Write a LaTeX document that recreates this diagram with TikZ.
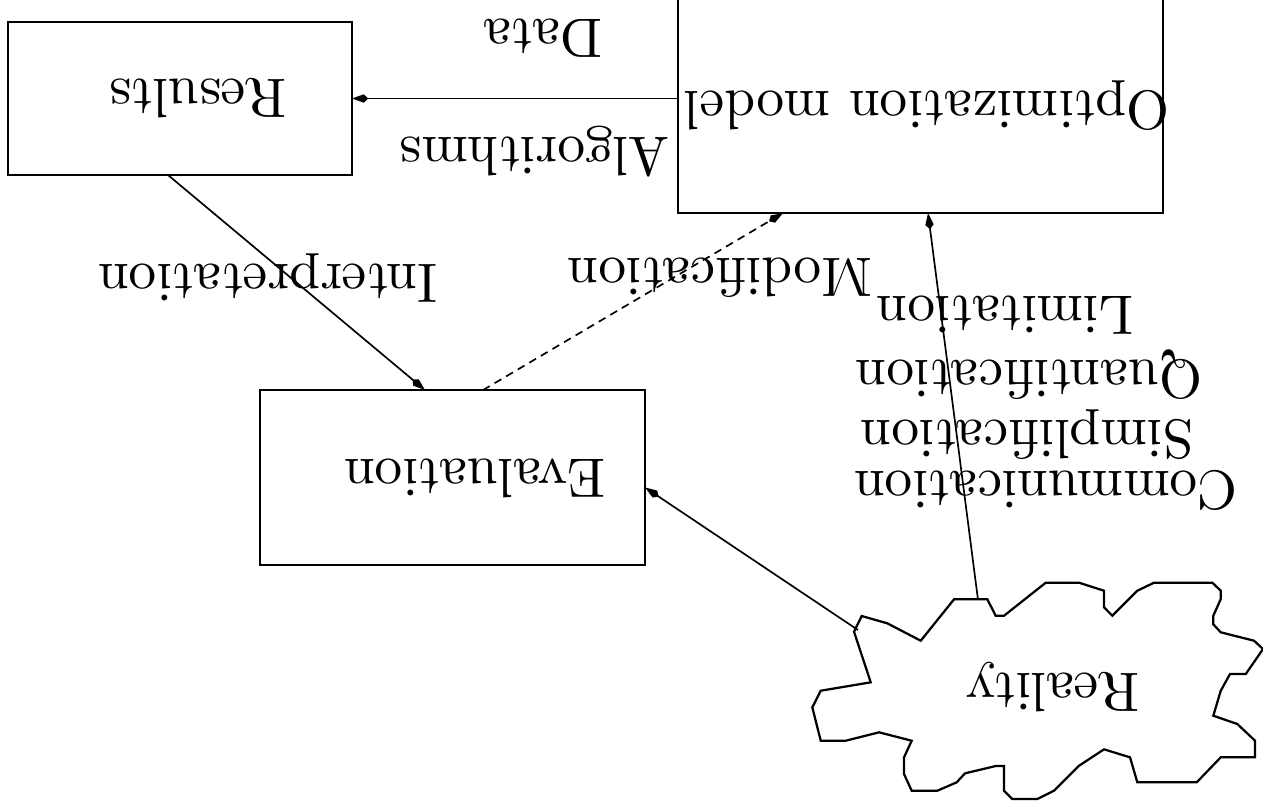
\documentclass[tikz,border=0pt]{standalone}
\usetikzlibrary{arrows.meta,calc}
\begin{document}
\begin{tikzpicture}[x=0.1786pt,y=-0.1786pt,
  box/.style={draw, inner sep=0pt, outer sep=0pt},
  lbl/.style={rotate=180, inner sep=0pt, font=\fontsize{9.9}{12}\selectfont},
  arr/.style={-{Kite[length=2.9pt,width=1.5pt,inset=0.8pt]}},
  dsh/.style={dash pattern=on 1.4pt off 1pt},
  thinline/.style={line width=0.3pt}
]
\useasboundingbox (0,0) rectangle (1263,810);
% boxes
\node[box, minimum width=61.44pt, minimum height=27.33pt] (res) at (180,98.5) {};
\node[box, minimum width=86.6pt, minimum height=38.6pt] (opt) at (920.5,105) {};
\node[box, minimum width=68.8pt, minimum height=31.25pt] (eval) at (452.5,477.5) {};
% box texts
\node[lbl] (restxt) at (198,98) {Results};
\node[lbl] (opttxt) at (927,106) {Optimization model};
\node[lbl] (evaltxt) at (475,478) {Evaluation};
% cloud
\draw (861.7,616) -- (887.3,623.3) -- (920.7,640.7) -- (954,599.3) -- (987.3,599.3)
 -- (995.7,615.7) -- (1004,615.7) -- (1045.7,582.7) -- (1079,582.7) -- (1104,590.7)
 -- (1104,607.3) -- (1112.3,615.7) -- (1137.3,590.7) -- (1154,582.7) -- (1212.3,582.7)
 -- (1220.7,590.7) -- (1220.7,599) -- (1213.3,615.7) -- (1213.3,624.3) -- (1220.7,632.3)
 -- (1254,640.7) -- (1263,649) -- (1245.7,674) -- (1230,674) -- (1220.7,690.7)
 -- (1213.3,715.7) -- (1237.3,724) -- (1255,740.7) -- (1255,757.3) -- (1220.7,757.3)
 -- (1196.7,782.3) -- (1137.3,782.3) -- (1130,757.3) -- (1104,749.3) -- (1079,765.7)
 -- (1054,790.7) -- (1037.3,799) -- (1012.3,799) -- (1004,790.7) -- (1004,766)
 -- (995.7,766) -- (965,773.3) -- (956.7,782.3) -- (937.3,790.7) -- (911.7,790.7)
 -- (904,774) -- (904,757.3) -- (911.7,740.7) -- (879,732.3) -- (845.7,740.7)
 -- (820.7,740.7) -- (812.3,707.3) -- (820.7,690.7) -- (870.7,682.3) -- (854,631.7)
 -- cycle;
\node[lbl] (real) at (1053,687) {Reality};
\coordinate (realtop) at (978,600);
\coordinate (realleft) at (858,630);
% connectors
\draw[arr, thinline] (opt.west |- res.east) -- (res.east);
\draw[arr, thinline] ($(res.south)+(-12,0)$) -- ($(eval.north)+(-27.5,0)$);
\draw[arr, thinline, dsh] ($(eval.north)+(30.5,0)$) -- ($(opt.south)+(-137.5,0)$);
\draw[arr, thinline] (realtop) -- ($(opt.south)+(7.5,0)$);
\draw[arr, thinline] (realleft) -- ($(eval.east)+(0,10)$);
% connector labels
\node[lbl] (ldata) at (543,38) {Data};
\node[lbl] (lalg) at (535,152) {Algorithms};
\node[lbl] (linterp) at (268,278) {Interpretation};
\node[lbl] (lmod) at (720,278) {Modification};
\node[lbl] (llim) at (1005,315) {Limitation};
\node[lbl] (lquant) at (1029,375) {Quantification};
\node[lbl] (lsimp) at (1027,435) {Simplification};
\node[lbl] (lcomm) at (1046,490) {Communication};
\end{tikzpicture}
\end{document}
